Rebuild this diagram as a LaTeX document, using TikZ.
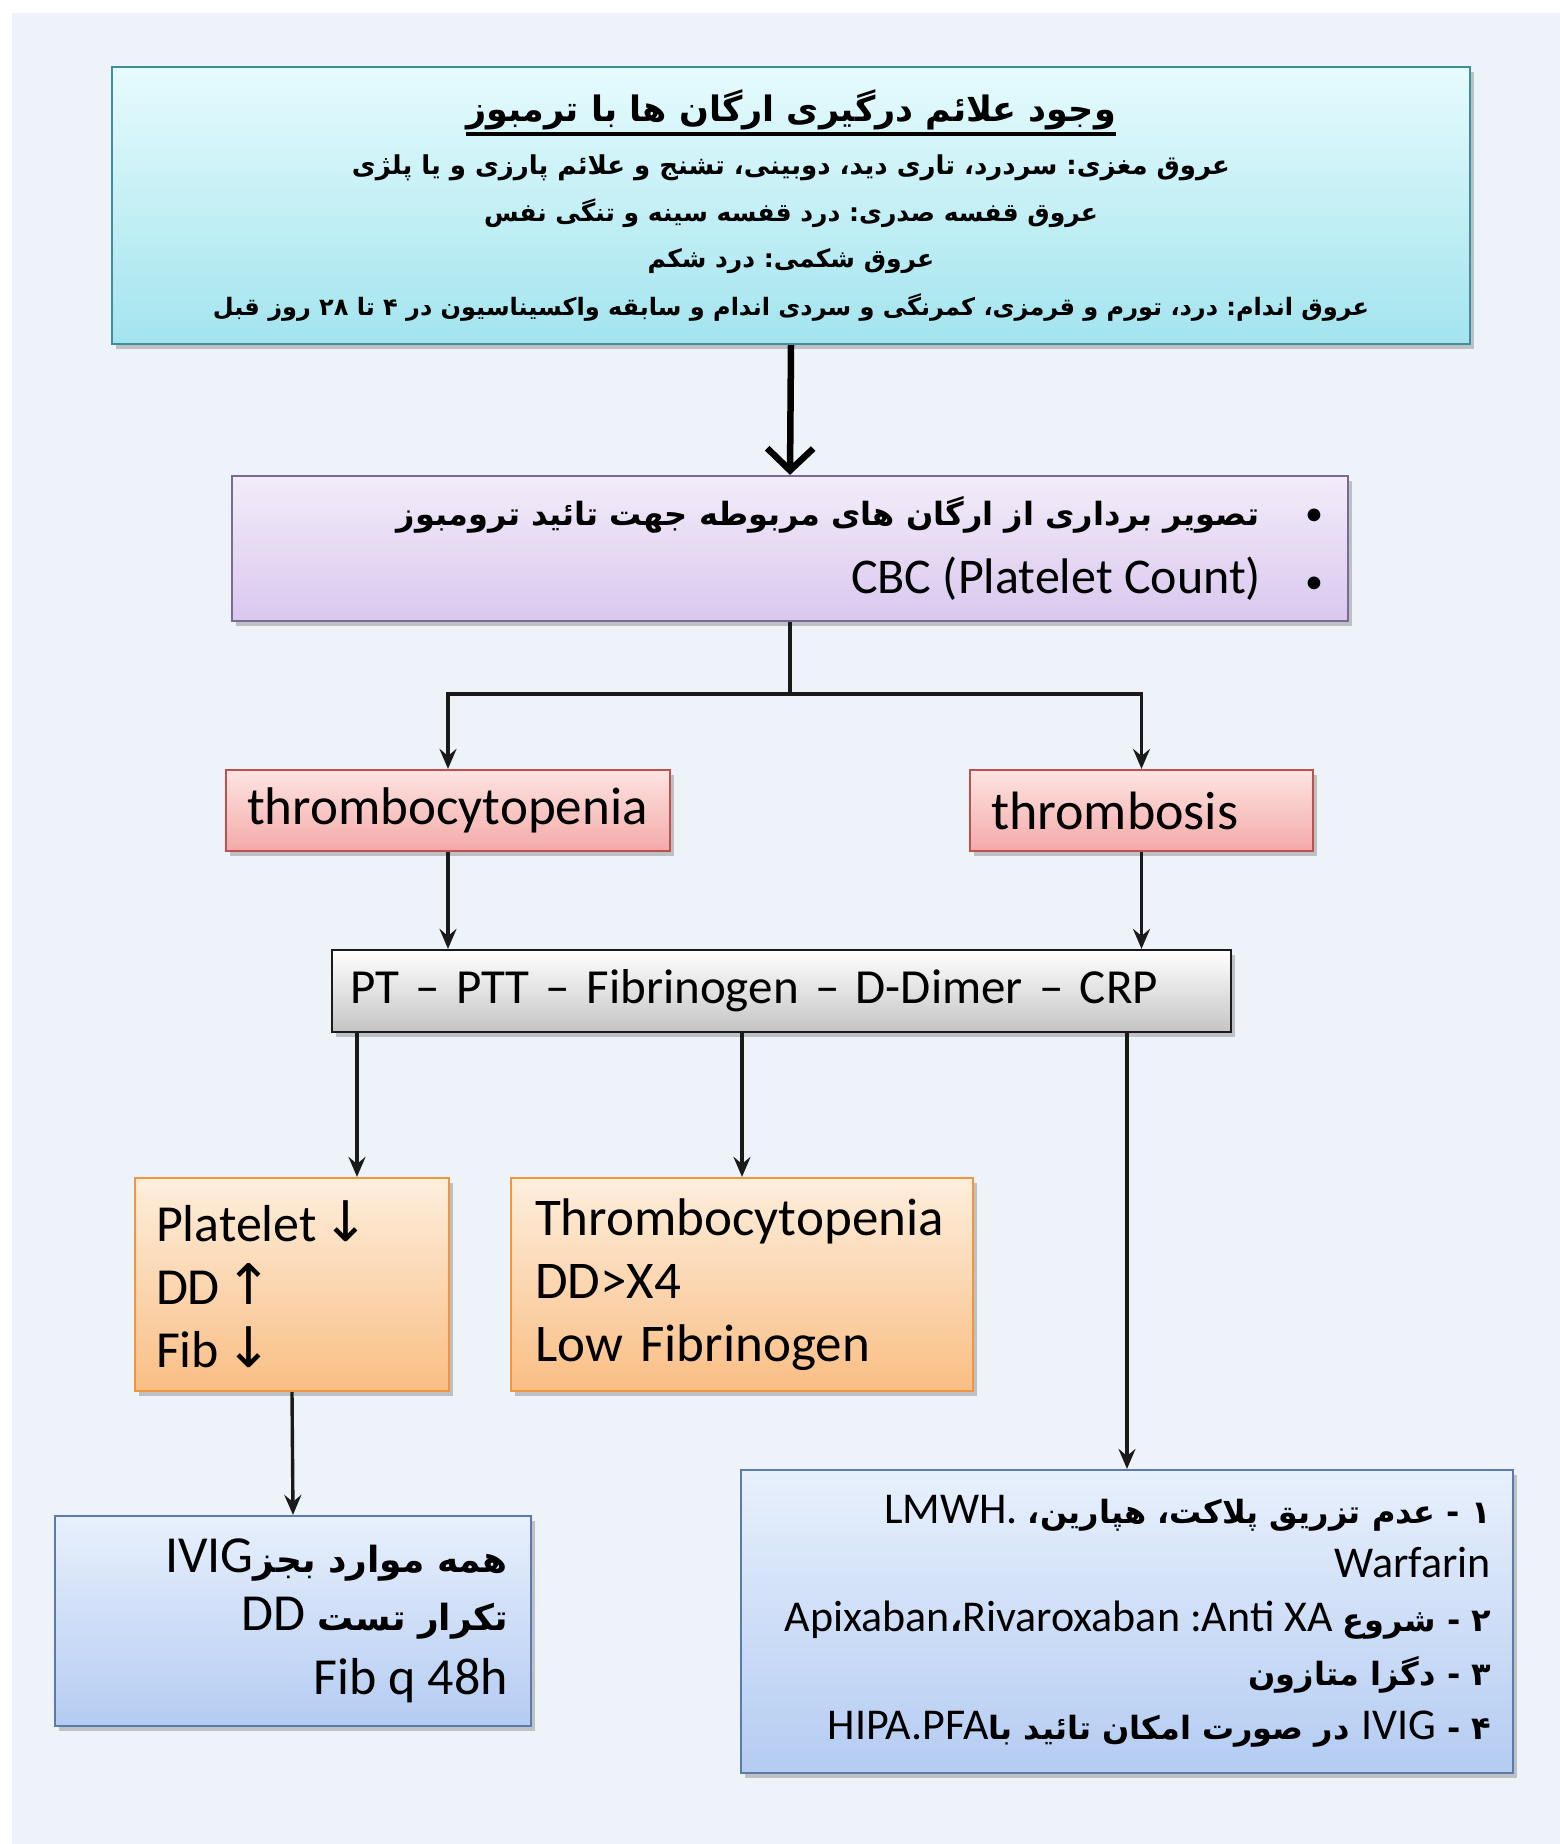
\documentclass[tikz,border=0pt]{standalone}
\usepackage{fontspec}
\setmainfont{Carlito}
\newfontfamily\fa[Script=Arabic]{DejaVu Sans}
\newfontfamily\symf{DejaVu Sans}
\TeXXeTstate=1
\usetikzlibrary{arrows.meta,shadows}
\definecolor{bgc}{HTML}{EEF3FA}
\definecolor{topt}{HTML}{E6FBFD}\definecolor{topb}{HTML}{A3E4EE}\definecolor{topd}{HTML}{3E8E9C}
\definecolor{purt}{HTML}{F3ECF9}\definecolor{purb}{HTML}{D9C8EE}\definecolor{purd}{HTML}{7A6A96}
\definecolor{redt}{HTML}{FDE4E2}\definecolor{redb}{HTML}{F3AAA8}\definecolor{redd}{HTML}{C0504D}
\definecolor{gryt}{HTML}{FFFFFF}\definecolor{gryb}{HTML}{C4C4C4}\definecolor{gryd}{HTML}{1A1A1A}
\definecolor{orat}{HTML}{FDEEDC}\definecolor{orab}{HTML}{F9BE84}\definecolor{orad}{HTML}{F0963C}
\definecolor{blut}{HTML}{E8F0FC}\definecolor{blub}{HTML}{B4CCF2}\definecolor{blud}{HTML}{5B7BAA}
\definecolor{lk}{HTML}{1A1A1A}
\newcommand\ulbar[1]{\vtop{\hbox{#1}\kern2pt\hrule height 3.5pt}}
\newcommand\fs[2]{\fontsize{#1}{#2}\selectfont\spaceskip=\fontdimen2\font\xspaceskip=\fontdimen2\font\relax}
\newcommand\faf[2]{\fa\bfseries\fs{#1}{#2}}
\begin{document}
\begin{tikzpicture}[x=1pt,y=-1pt,
  box/.style={draw, rectangle, line width=2.2pt, inner ysep=0pt,
    drop shadow={shadow xshift=4pt,shadow yshift=-5pt,opacity=0.3,fill=black!70}},
  topbox/.style={box, draw=topd, top color=topt, bottom color=topb},
  purbox/.style={box, draw=purd, top color=purt, bottom color=purb},
  redbox/.style={box, draw=redd, top color=redt, bottom color=redb},
  grybox/.style={box, draw=gryd, top color=gryt, bottom color=gryb},
  orabox/.style={box, draw=orad, top color=orat, bottom color=orab},
  blubox/.style={box, draw=blud, top color=blut, bottom color=blub},
  conn/.style={draw=lk, line width=3.4pt},
  arr/.style={conn, -{Stealth[length=20pt,width=17pt,inset=7pt]}},
  bigarr/.style={draw=black, line width=6.5pt, -{Straight Barb[length=22pt,width=46pt]}}]
\useasboundingbox (0,0) rectangle (1560,1844);
\fill[white] (0,0) rectangle (1560,1844);
\fill[bgc] (12,13) rectangle (1560,1844);

% top box
\node[topbox, minimum height=277pt, text width=1318pt, inner xsep=20pt, align=center] (top) at (791,205.5) {%
{\faf{35}{36}\ulbar{\beginR وجود علائم درگیری ارگان ها با ترمبوز\endR}\par}\vspace{6pt}
{\faf{26}{47}\beginR عروق مغزی: سردرد، تاری دید، دوبینی، تشنج و علائم پارزی و یا پلژی\endR\par}
{\faf{25}{47}\beginR عروق قفسه صدری: درد قفسه سینه و تنگی نفس\endR\par}
{\faf{25}{46}\beginR عروق شکمی: درد شکم\endR\par}
{\faf{24}{48}\beginR عروق اندام: درد، تورم و قرمزی، کمرنگی و سردی اندام و سابقه واکسیناسیون در ۴ تا ۲۸ روز قبل\endR\par}};

% purple box
\node[purbox, minimum height=145pt, text width=1066pt, inner xsep=25pt, align=right, font=\fs{50}{68}] (pur) at (790,548.5) {%
{\faf{32}{40}\beginR تصویر برداری از ارگان های مربوطه جهت تائید ترومبوز\endR}\hspace{46pt}{\fs{36}{40}\textbullet}\par
{\fs{50}{68}CBC (Platelet Count)\hspace{44pt}{\fs{36}{40}\textbullet}\par}};

% red boxes
\node[redbox, minimum height=81pt, text width=402pt, inner xsep=21pt, align=left, font=\fs{53}{60}] (red1) at (448,810.5) {thrombocytopenia};
\node[redbox, minimum height=81pt, text width=301pt, inner xsep=21pt, align=left, font=\fs{54}{60}] (red2) at (1141.5,810.5) {thrombosis};

% gray box
\node[grybox, minimum height=82pt, text width=863pt, inner xsep=18pt, align=left, font=\fs{49}{58}] (gray) at (781.5,991) {PT -- PTT -- Fibrinogen -- D-Dimer -- CRP};

% orange boxes
\node[orabox, minimum height=213pt, text width=272pt, inner xsep=21pt, align=left, font=\fs{52}{63}] (or1) at (292,1284.5) {Platelet\kern6pt{\symf\fs{56}{63}↓}\\DD\kern6pt{\symf\fs{56}{63}↑}\\Fib\kern6pt{\symf\fs{56}{63}↓}};
\node[orabox, minimum height=213pt, text width=414pt, inner xsep=24pt, align=left, font=\fs{53}{63}] (or2) at (742,1284.5) {Thrombocytopenia\\DD>X4\\Low Fibrinogen};

% blue boxes
\node[blubox, minimum height=210pt, text width=430pt, inner xsep=23pt, align=right, font=\fs{52}{60}] (bl1) at (293,1621) {%
{\fs{52}{60}IVIG{\faf{36}{60}\beginR همه موارد بجز\endR}\par}
{\fs{52}{58}DD {\faf{36}{58}\beginR تکرار تست\endR}\par}
{\fs{52}{64}Fib q 48h\par}};

\node[blubox, minimum height=303pt, text width=728pt, inner xsep=22pt, align=right, font=\fs{44}{54}] (bl2) at (1127,1621.5) {%
{\fs{44}{54}LMWH. {\faf{32}{54}\beginR ۱ - عدم تزریق پلاکت، هپارین،\endR}\par}
{\fs{44}{54}Warfarin\par}
{\fs{44}{54}Apixaban{\faf{32}{54}،}Rivaroxaban :Anti XA {\faf{32}{54}\beginR ۲ - شروع\endR}\par}
{\faf{32}{54}\beginR ۳ - دگزا متازون\endR\par}
{\fs{44}{54}HIPA.PFA{\faf{32}{54}\beginR ۴ - {\rmfamily\mdseries\fs{44}{54}IVIG} در صورت امکان تائید با\endR}\par}};

% connectors
\coordinate (split) at (790,694);
\draw[bigarr] (top.south) -- (pur.north);
\draw[conn] (pur.south) -- (split);
\draw[arr] (split) -| (red1.north);
\draw[arr] (split) -| (red2.north);
\draw[arr] (red1.south) -- (red1.south |- gray.north);
\draw[arr] (red2.south) -- (red2.south |- gray.north);
\draw[arr] (gray.south -| 357,0) -- (or1.north -| 357,0);
\draw[arr] (gray.south -| or2.north) -- (or2.north);
\draw[arr] (gray.south -| bl2.north) -- (bl2.north);
\draw[arr] (or1.south) -- (bl1.north);
\end{tikzpicture}
\end{document}
